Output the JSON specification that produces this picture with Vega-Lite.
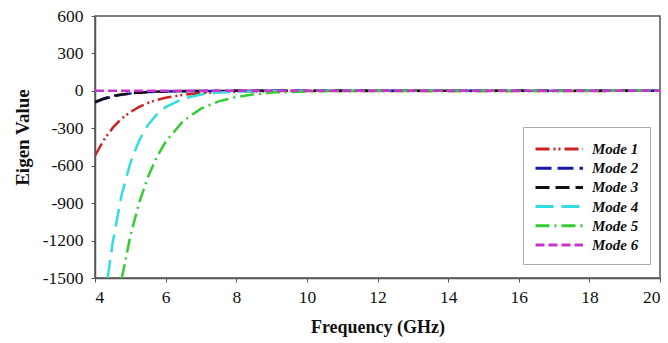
{
  "$schema": "https://vega.github.io/schema/vega-lite/v6.json",
  "autosize": "none",
  "width": 565,
  "height": 262,
  "padding": {"left": 95, "top": 16, "right": 8, "bottom": 65},
  "background": "white",
  "config": {
    "view": {"stroke": "#555", "strokeWidth": 1.5},
    "font": "Liberation Serif, Times New Roman, serif",
    "axis": {
      "labelFont": "Liberation Serif, Times New Roman, serif",
      "labelFontSize": 17.5,
      "labelColor": "#111",
      "titleFont": "Liberation Serif, Times New Roman, serif",
      "titleFontWeight": "bold",
      "titleColor": "#111",
      "domainColor": "#555",
      "domainWidth": 1.5,
      "tickColor": "#555",
      "tickSize": 4,
      "grid": false
    },
    "legend": {
      "labelFont": "Liberation Serif, Times New Roman, serif",
      "labelFontSize": 15,
      "labelFontStyle": "italic",
      "labelFontWeight": "bold",
      "labelColor": "#111",
      "symbolType": "M-1,0H4",
      "symbolStrokeWidth": 3,
      "strokeColor": "#aaa",
      "fillColor": "white"
    }
  },
  "data": {
    "values": [
      {"f": 4, "v": -520, "mode": "Mode 1"},
      {"f": 4.25, "v": -393, "mode": "Mode 1"},
      {"f": 4.5, "v": -297, "mode": "Mode 1"},
      {"f": 4.75, "v": -224, "mode": "Mode 1"},
      {"f": 5, "v": -170, "mode": "Mode 1"},
      {"f": 5.25, "v": -128, "mode": "Mode 1"},
      {"f": 5.5, "v": -97, "mode": "Mode 1"},
      {"f": 5.75, "v": -73, "mode": "Mode 1"},
      {"f": 6, "v": -55, "mode": "Mode 1"},
      {"f": 6.5, "v": -32, "mode": "Mode 1"},
      {"f": 7, "v": -18, "mode": "Mode 1"},
      {"f": 7.5, "v": -10, "mode": "Mode 1"},
      {"f": 8, "v": -6, "mode": "Mode 1"},
      {"f": 9, "v": -2, "mode": "Mode 1"},
      {"f": 10, "v": -1, "mode": "Mode 1"},
      {"f": 20, "v": 0, "mode": "Mode 1"},

      {"f": 4, "v": -95, "mode": "Mode 2"},
      {"f": 4.25, "v": -65, "mode": "Mode 2"},
      {"f": 4.5, "v": -45, "mode": "Mode 2"},
      {"f": 4.75, "v": -31, "mode": "Mode 2"},
      {"f": 5, "v": -21, "mode": "Mode 2"},
      {"f": 5.5, "v": -10, "mode": "Mode 2"},
      {"f": 6, "v": -5, "mode": "Mode 2"},
      {"f": 7, "v": -1, "mode": "Mode 2"},
      {"f": 8, "v": 0, "mode": "Mode 2"},
      {"f": 20, "v": 0, "mode": "Mode 2"},

      {"f": 4, "v": -88, "mode": "Mode 3"},
      {"f": 4.25, "v": -61, "mode": "Mode 3"},
      {"f": 4.5, "v": -42, "mode": "Mode 3"},
      {"f": 4.75, "v": -29, "mode": "Mode 3"},
      {"f": 5, "v": -20, "mode": "Mode 3"},
      {"f": 5.5, "v": -9, "mode": "Mode 3"},
      {"f": 6, "v": -4, "mode": "Mode 3"},
      {"f": 7, "v": -1, "mode": "Mode 3"},
      {"f": 8, "v": 0, "mode": "Mode 3"},
      {"f": 20, "v": 0, "mode": "Mode 3"},

      {"f": 4.36, "v": -1500, "mode": "Mode 4"},
      {"f": 4.5, "v": -1218, "mode": "Mode 4"},
      {"f": 4.75, "v": -839, "mode": "Mode 4"},
      {"f": 5, "v": -578, "mode": "Mode 4"},
      {"f": 5.25, "v": -398, "mode": "Mode 4"},
      {"f": 5.5, "v": -274, "mode": "Mode 4"},
      {"f": 5.75, "v": -189, "mode": "Mode 4"},
      {"f": 6, "v": -130, "mode": "Mode 4"},
      {"f": 6.5, "v": -62, "mode": "Mode 4"},
      {"f": 7, "v": -29, "mode": "Mode 4"},
      {"f": 7.5, "v": -14, "mode": "Mode 4"},
      {"f": 8, "v": -7, "mode": "Mode 4"},
      {"f": 9, "v": -1, "mode": "Mode 4"},
      {"f": 10, "v": 0, "mode": "Mode 4"},
      {"f": 20, "v": 0, "mode": "Mode 4"},

      {"f": 4.76, "v": -1500, "mode": "Mode 5"},
      {"f": 5, "v": -1166, "mode": "Mode 5"},
      {"f": 5.25, "v": -896, "mode": "Mode 5"},
      {"f": 5.5, "v": -690, "mode": "Mode 5"},
      {"f": 5.75, "v": -530, "mode": "Mode 5"},
      {"f": 6, "v": -408, "mode": "Mode 5"},
      {"f": 6.5, "v": -241, "mode": "Mode 5"},
      {"f": 7, "v": -143, "mode": "Mode 5"},
      {"f": 7.5, "v": -84, "mode": "Mode 5"},
      {"f": 8, "v": -50, "mode": "Mode 5"},
      {"f": 8.5, "v": -28, "mode": "Mode 5"},
      {"f": 9, "v": -14, "mode": "Mode 5"},
      {"f": 10, "v": -4, "mode": "Mode 5"},
      {"f": 11, "v": -1, "mode": "Mode 5"},
      {"f": 20, "v": 0, "mode": "Mode 5"},

      {"f": 4, "v": 0, "mode": "Mode 6"},
      {"f": 20, "v": 0, "mode": "Mode 6"}
    ]
  },
  "mark": {"type": "line", "strokeWidth": 2.5, "clip": true},
  "encoding": {
    "x": {
      "field": "f", "type": "quantitative",
      "title": "Frequency (GHz)",
      "scale": {"domain": [4, 20], "nice": false, "zero": false},
      "axis": {"values": [4, 6, 8, 10, 12, 14, 16, 18, 20], "titleFontSize": 18, "titlePadding": 13, "labelPadding": 6, "labelExpr": "'' + datum.value"}
    },
    "y": {
      "field": "v", "type": "quantitative",
      "title": "Eigen Value",
      "scale": {"domain": [-1500, 600], "nice": false, "zero": false},
      "axis": {"values": [-1500, -1200, -900, -600, -300, 0, 300, 600], "titleFontSize": 19, "titleY": 121, "titlePadding": 10, "labelPadding": 8, "labelExpr": "'' + datum.value"}
    },
    "color": {
      "field": "mode", "type": "nominal",
      "scale": {
        "domain": ["Mode 1", "Mode 2", "Mode 3", "Mode 4", "Mode 5", "Mode 6"],
        "range": ["#cc2222", "#1a1aaa", "#111111", "#33dddd", "#33cc33", "#cc33cc"]
      },
      "legend": {
        "title": null,
        "orient": "none",
        "legendX": 428,
        "legendY": 111,
        "padding": 11,
        "symbolSize": 361,
        "rowPadding": 0.2,
        "labelOffset": 36
      }
    },
    "strokeDash": {
      "field": "mode", "type": "nominal",
      "scale": {
        "domain": ["Mode 1", "Mode 2", "Mode 3", "Mode 4", "Mode 5", "Mode 6"],
        "range": [[14, 4, 2, 3, 2, 4], [16, 6], [14, 6], [18, 8], [14, 5, 2, 5], [9, 4]]
      },
      "legend": null
    },
    "order": {"field": "f", "type": "quantitative"}
  }
}
